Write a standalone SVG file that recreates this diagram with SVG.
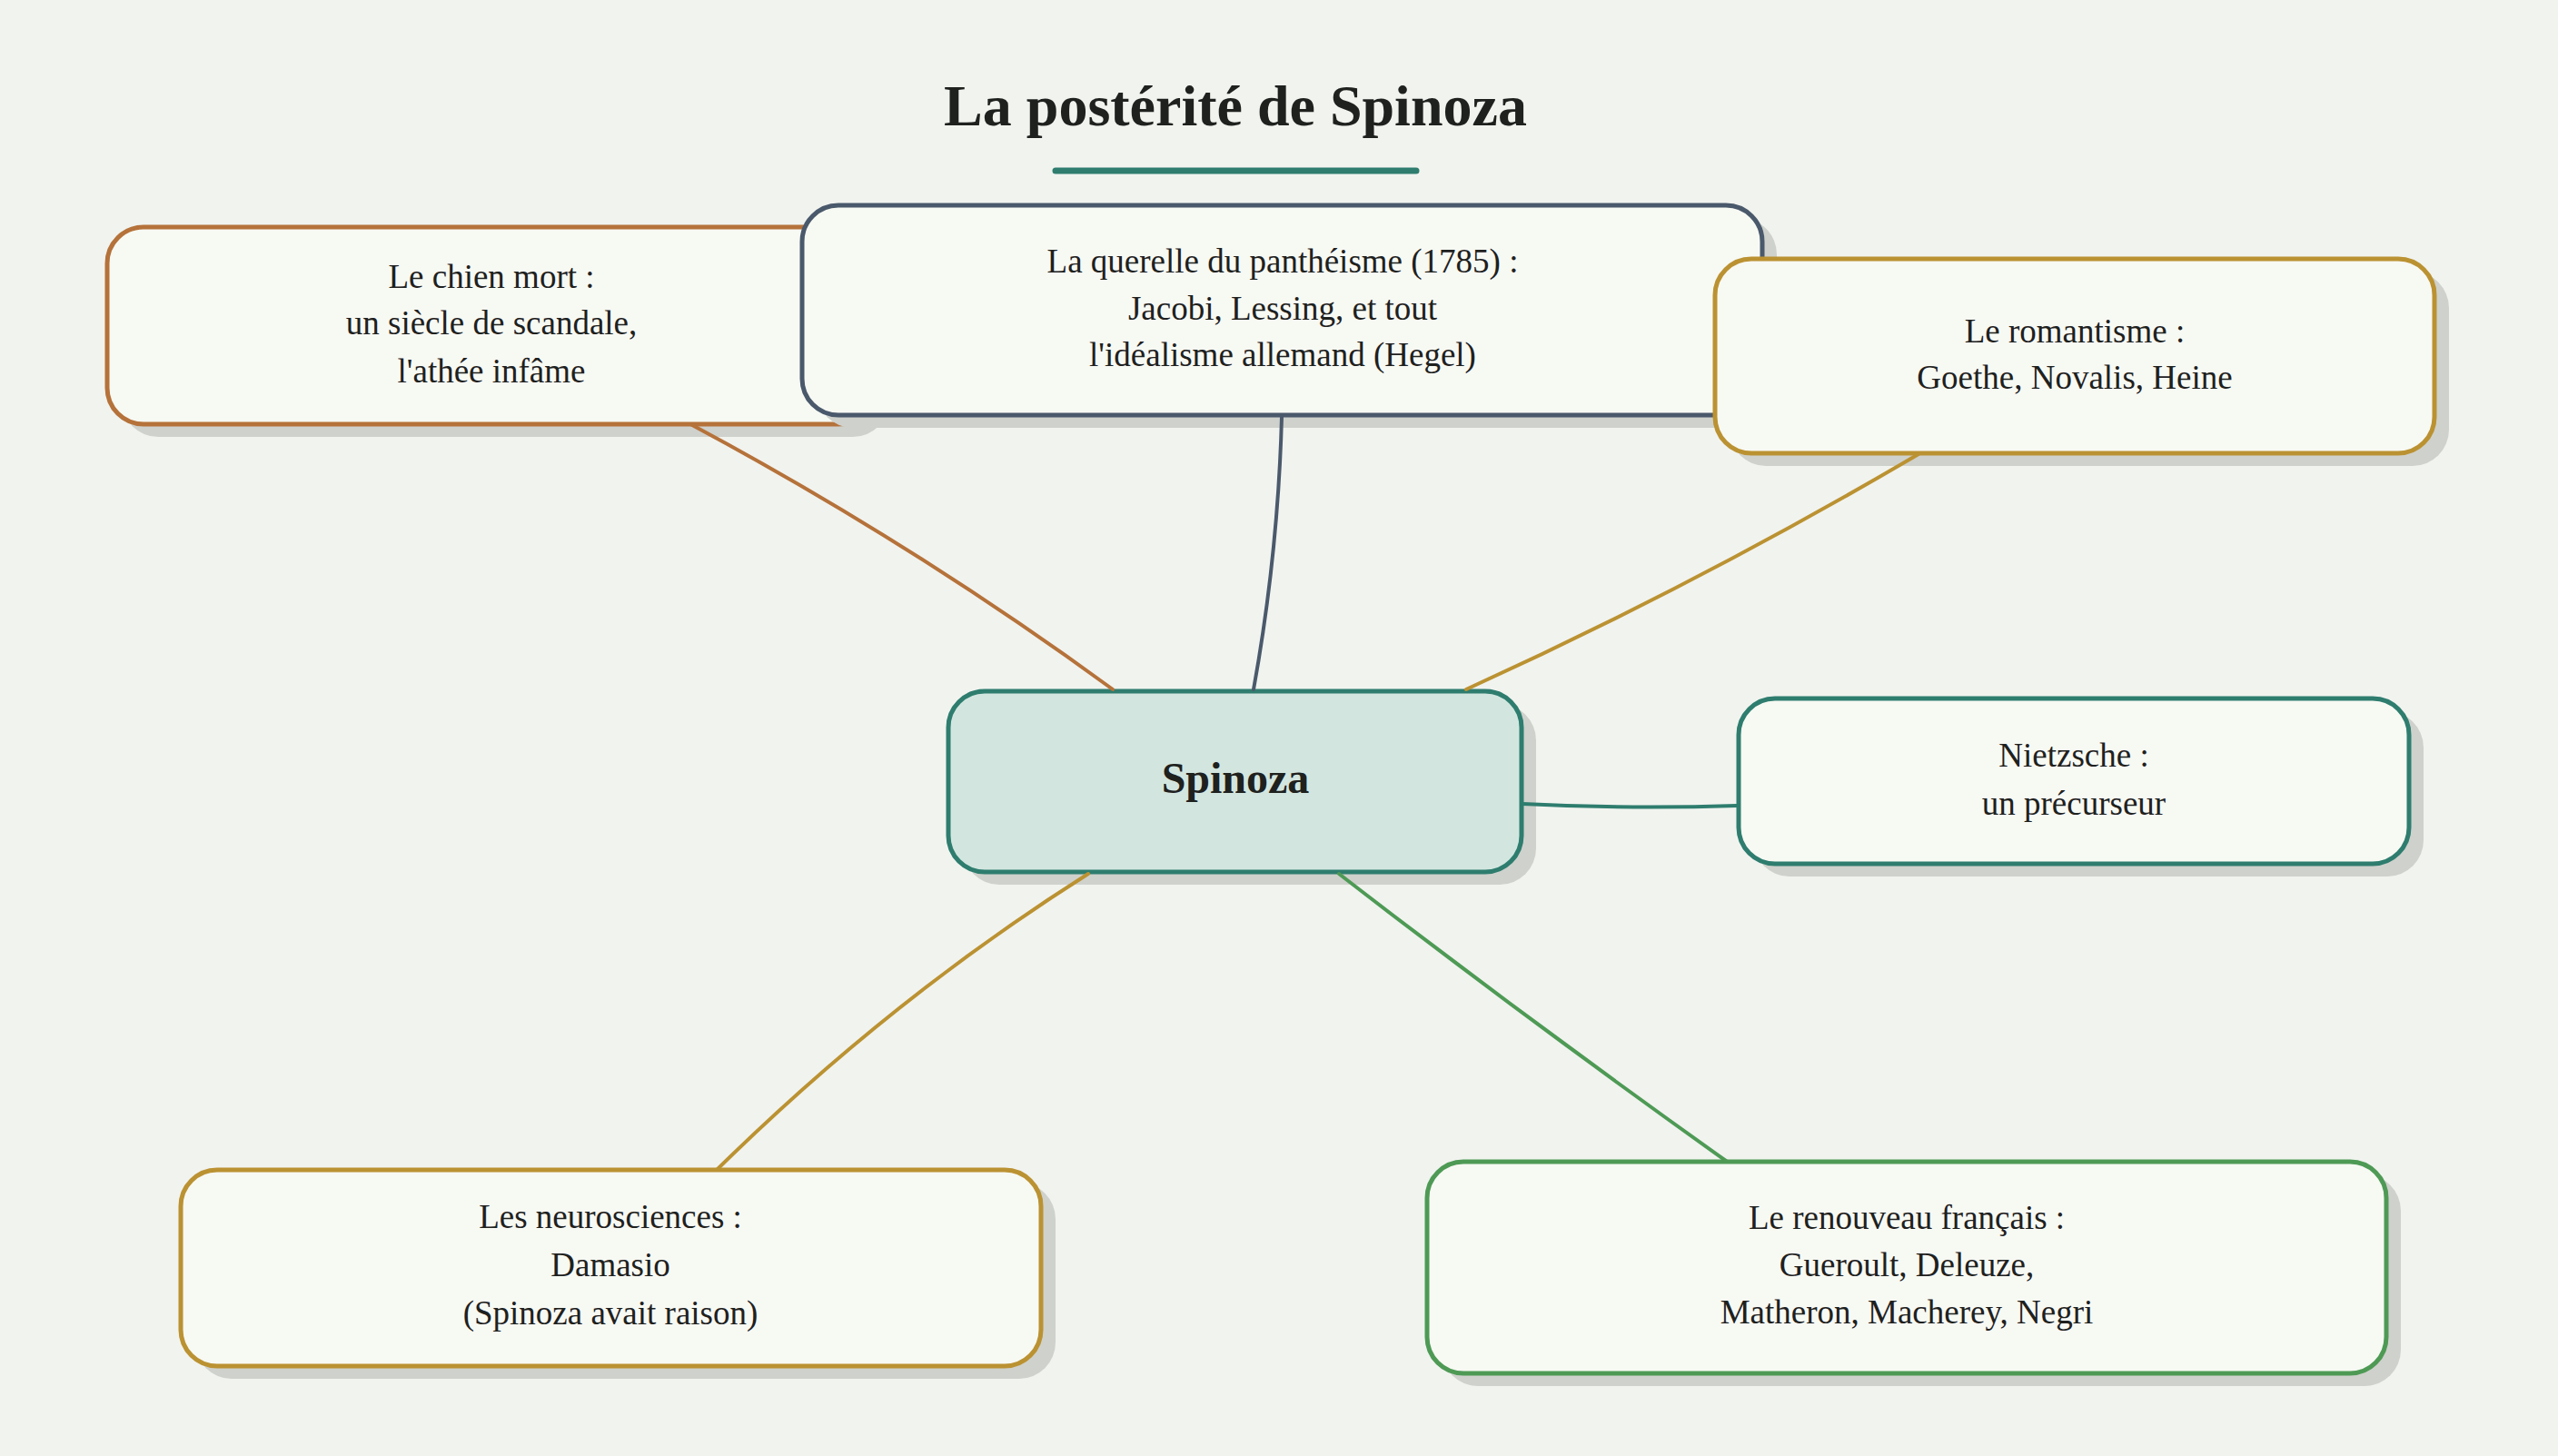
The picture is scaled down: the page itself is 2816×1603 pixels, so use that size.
<svg xmlns="http://www.w3.org/2000/svg" width="2816" height="1603" viewBox="0 0 2816 1603">
<defs>
<style>
.bg{fill:#f1f3ef}
.shadow{fill:#cfd1cc}
.box{fill:#f7f9f3;stroke-width:5}
.txt{font-family:"Liberation Serif","Times New Roman",serif;font-size:37px;fill:#1e211e;text-anchor:middle}
.title{font-family:"Liberation Serif","Times New Roman",serif;font-size:64px;font-weight:bold;fill:#1e211e;text-anchor:middle}
.main{font-family:"Liberation Serif","Times New Roman",serif;font-size:48px;font-weight:bold;fill:#1e211e;text-anchor:middle}
.link{fill:none;stroke-width:4;stroke-linecap:round}
</style>
</defs>
<rect class="bg" x="0" y="0" width="2816" height="1603"/>
<g id="title">
<text class="title" x="1360" y="138">La postérité de Spinoza</text>
<line x1="1162" y1="188" x2="1559" y2="188" stroke="#2e7d6e" stroke-width="7" stroke-linecap="round"/>
</g>
<g id="node-chien">
<rect class="shadow" x="134" y="264" width="845" height="217" rx="40"/>
<rect class="box" x="118" y="250" width="845" height="217" rx="40" stroke="#b5723a"/>
<text class="txt" x="541" y="317">Le chien mort :</text>
<text class="txt" x="541" y="368">un siècle de scandale,</text>
<text class="txt" x="541" y="421">l'athée infâme</text>
</g>
<g id="node-querelle">
<rect class="shadow" x="899" y="240" width="1057" height="231" rx="40"/>
<rect class="box" x="883" y="226" width="1057" height="231" rx="40" stroke="#4a596b"/>
<text class="txt" x="1412" y="300">La querelle du panthéisme (1785) :</text>
<text class="txt" x="1412" y="352">Jacobi, Lessing, et tout</text>
<text class="txt" x="1412" y="403">l'idéalisme allemand (Hegel)</text>
</g>
<g id="node-romantisme">
<rect class="shadow" x="1904" y="299" width="792" height="214" rx="40"/>
<rect class="box" x="1888" y="285" width="792" height="214" rx="40" stroke="#bb9232"/>
<text class="txt" x="2284" y="377">Le romantisme :</text>
<text class="txt" x="2284" y="428">Goethe, Novalis, Heine</text>
</g>
<g id="node-spinoza">
<rect class="shadow" x="1060" y="775" width="631" height="199" rx="40"/>
<rect x="1044" y="761" width="631" height="199" rx="40" fill="#d2e6df" stroke="#2e7d6e" stroke-width="5"/>
<text class="main" x="1360" y="873">Spinoza</text>
</g>
<g id="node-nietzsche">
<rect class="shadow" x="1930" y="783" width="738" height="182" rx="40"/>
<rect class="box" x="1914" y="769" width="738" height="182" rx="40" stroke="#2e7d6e"/>
<text class="txt" x="2283" y="844">Nietzsche :</text>
<text class="txt" x="2283" y="897">un précurseur</text>
</g>
<g id="node-neuro">
<rect class="shadow" x="215" y="1302" width="947" height="216" rx="40"/>
<rect class="box" x="199" y="1288" width="947" height="216" rx="40" stroke="#bb9232"/>
<text class="txt" x="672" y="1352">Les neurosciences :</text>
<text class="txt" x="672" y="1405">Damasio</text>
<text class="txt" x="672" y="1458">(Spinoza avait raison)</text>
</g>
<g id="node-renouveau">
<rect class="shadow" x="1587" y="1293" width="1056" height="233" rx="40"/>
<rect class="box" x="1571" y="1279" width="1056" height="233" rx="40" stroke="#4e9a55"/>
<text class="txt" x="2099" y="1353">Le renouveau français :</text>
<text class="txt" x="2099" y="1405">Gueroult, Deleuze,</text>
<text class="txt" x="2099" y="1457">Matheron, Macherey, Negri</text>
</g>
<g id="connectors">
<path class="link" stroke="#b5723a" d="M 762 468 Q 1003 597 1225 759"/>
<path class="link" stroke="#4a596b" d="M 1411 459 Q 1407 610 1380 759"/>
<path class="link" stroke="#bb9232" d="M 2112 500 Q 1869 643 1614 759"/>
<path class="link" stroke="#2e7d6e" d="M 1676 885 Q 1795 891 1912 887"/>
<path class="link" stroke="#bb9232" d="M 1198 962 Q 980 1100 790 1287"/>
<path class="link" stroke="#4e9a55" d="M 1474 962 Q 1685 1125 1900 1278"/>
</g>
</svg>
